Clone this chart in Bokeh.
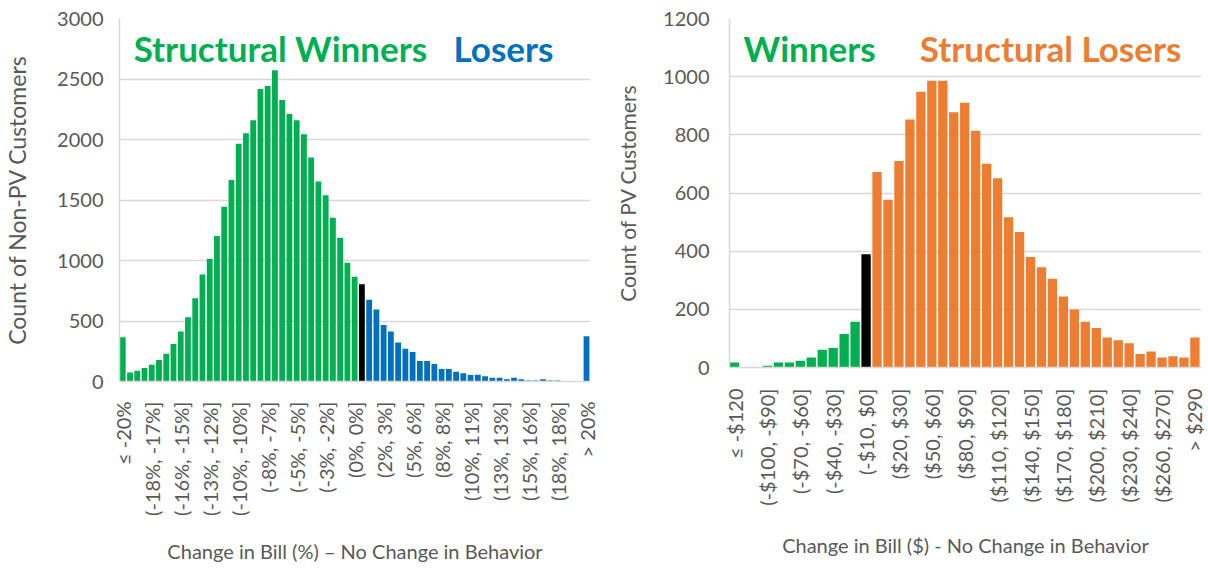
import math
from bokeh.plotting import figure
from bokeh.models import FixedTicker, Label, Range1d, ColumnDataSource
from bokeh.layouts import row
from bokeh.embed import file_html
from bokeh.resources import INLINE

FONT = "Lato"
GREEN = "#00B050"
BLUE = "#0070C0"
ORANGE = "#ED7D31"
BLACK = "#000000"
TEXT = "#595959"
GRID = "#D9D9D9"

# ---- Left chart: Non-PV customers, change in bill (%) ----
left_counts = [365, 75, 88, 112, 138, 178, 230, 310, 413, 531, 688, 885, 1015,
               1202, 1445, 1666, 1965, 2052, 2160, 2417, 2442, 2572, 2326, 2210,
               2160, 2044, 1851, 1652, 1539, 1354, 1188, 981, 865, 803,
               675, 596, 467, 414, 322, 271, 244, 170, 170, 145, 104, 104, 80,
               68, 54, 56, 44, 32, 32, 18, 30, 18, 8, 8, 18, 8, 8, 0, 0, 0, 375]
left_tick_labels = ["≤ -20%", "(-18%, -17%]", "(-16%, -15%]", "(-13%, -12%]",
                    "(-10%, -10%]", "(-8%, -7%]", "(-5%, -5%]", "(-3%, -2%]",
                    "(0%, 0%]", "(2%, 3%]", "(5%, 6%]", "(8%, 8%]", "(10%, 11%]",
                    "(13%, 13%]", "(15%, 16%]", "(18%, 18%]", "> 20%"]
left_label_every = 4
left_zero_bin = 33

# ---- Right chart: PV customers, change in bill ($) ----
right_counts = [17, 0, 0, 6, 17, 17, 23, 34, 61, 67, 115, 157, 389,
                672, 577, 710, 853, 948, 986, 986, 878, 910, 814, 701, 651,
                517, 466, 380, 345, 305, 244, 199, 157, 136, 103, 94, 83, 46,
                55, 34, 39, 34, 103]
right_tick_labels = ["≤ -$120", "(-$100, -$90]", "(-$70, -$60]", "(-$40, -$30]",
                     "(-$10, $0]", "($20, $30]", "($50, $60]", "($80, $90]",
                     "($110, $120]", "($140, $150]", "($170, $180]", "($200, $210]",
                     "($230, $240]", "($260, $270]", "> $290"]
right_label_every = 3
right_zero_bin = 12


def make_chart(counts, tick_labels, every, zero_bin, lo_color, hi_color,
               ymax, ystep, ytitle, xtitle, x_range, bar_width,
               frame_w, frame_h, b_left, b_right, b_bottom,
               ylab_standoff, ytitle_standoff, ytitle_size,
               xlab_standoff, xtitle_standoff):
    n = len(counts)
    xs = list(range(n))
    colors = [lo_color if i < zero_bin else (BLACK if i == zero_bin else hi_color) for i in xs]
    src = ColumnDataSource(dict(x=xs, top=counts, color=colors))
    p = figure(frame_width=frame_w, frame_height=frame_h,
               output_backend="svg", toolbar_location=None,
               x_range=Range1d(*x_range), y_range=Range1d(0, ymax),
               min_border_left=b_left, min_border_right=b_right,
               min_border_top=18, min_border_bottom=b_bottom)
    p.outline_line_color = None
    p.background_fill_color = "white"
    p.border_fill_color = "white"
    p.vbar(x="x", top="top", width=bar_width, fill_color="color", line_color=None, source=src)

    p.xgrid.visible = False
    p.ygrid.grid_line_color = GRID
    p.ygrid.grid_line_width = 1.5

    ticks = list(range(0, n, every))
    p.xaxis.ticker = FixedTicker(ticks=ticks)
    p.xaxis.major_label_overrides = {t: lab for t, lab in zip(ticks, tick_labels)}
    p.xaxis.major_label_orientation = math.pi / 2
    p.yaxis.ticker = FixedTicker(ticks=list(range(0, ymax + 1, ystep)))

    for ax in (p.xaxis[0], p.yaxis[0]):
        ax.axis_line_color = GRID
        ax.axis_line_width = 1.5
        ax.major_tick_line_color = None
        ax.minor_tick_line_color = None
        ax.major_tick_out = 0
        ax.major_tick_in = 0
        ax.major_label_text_font = FONT
        ax.major_label_text_font_size = "20px"
        ax.major_label_text_color = TEXT
        ax.axis_label_text_font = FONT
        ax.axis_label_text_font_size = "20px"
        ax.axis_label_text_color = TEXT
        ax.axis_label_text_font_style = "normal"
    p.yaxis.axis_label = ytitle
    p.yaxis.axis_label_text_font_size = ytitle_size
    p.xaxis.axis_label = xtitle
    p.yaxis.major_label_standoff = ylab_standoff
    p.yaxis.axis_label_standoff = ytitle_standoff
    p.xaxis.major_label_standoff = xlab_standoff
    p.xaxis.axis_label_standoff = xtitle_standoff
    return p


p1 = make_chart(left_counts, left_tick_labels, left_label_every, left_zero_bin,
                GREEN, BLUE, 3000, 500, "Count of Non-PV Customers",
                "Change in Bill (%) \u2013 No Change in Behavior",
                (-0.45, 64.55), 0.8, 471, 363, 118, 21, 185,
                16, 23, "23px", 20, 20)
p2 = make_chart(right_counts, right_tick_labels, right_label_every, right_zero_bin,
                GREEN, ORANGE, 1200, 200, "Count of PV Customers",
                "Change in Bill ($) - No Change in Behavior",
                (-0.46, 42.6), 0.85, 472, 349, 118, 4, 199,
                20, 20, "21px", 21, 24)


def headline(p, x, y, text, color):
    p.add_layout(Label(x=x, y=y, text=text, text_color=color, text_font=FONT,
                       text_font_style="bold", text_font_size="35px",
                       text_baseline="alphabetic", text_align="left"))


headline(p1, 1.5, 2760, "Structural Winners", GREEN)
headline(p1, 45.65, 2760, "Losers", BLUE)
headline(p2, 0.82, 1100, "Winners", GREEN)
headline(p2, 16.9, 1100, "Structural Losers", ORANGE)

layout = row(p1, p2)
open("out.html", "w").write(file_html(layout, INLINE))
